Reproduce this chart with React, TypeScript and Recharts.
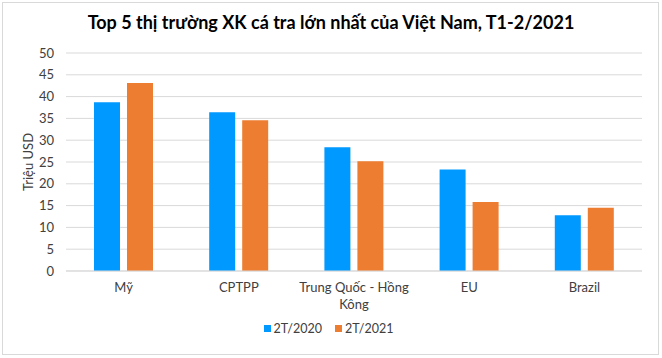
import React from 'react';
import { BarChart, Bar, XAxis, YAxis, CartesianGrid, Legend } from 'recharts';

const markets = ['Mỹ', 'CPTPP', 'Trung Quốc - Hồng Kông', 'EU', 'Brazil'];
const values2020 = [38.7, 36.4, 28.4, 23.3, 12.8];
const values2021 = [43.1, 34.6, 25.2, 15.8, 14.5];
const yTicks = [0, 5, 10, 15, 20, 25, 30, 35, 40, 45, 50];

const FONT = 'Lato, "Open Sans", sans-serif';

const chartData = markets.map((m, i) => ({
  market: m,
  y2020: values2020[i],
  y2021: values2021[i],
}));

// split long category names into lines (Excel-like wrapping)
function wrap(text: string, maxChars: number) {
  const words = text.split(' ');
  const lines: string[] = [];
  let cur = '';
  words.forEach((w) => {
    const next = cur ? cur + ' ' + w : w;
    if (next.length > maxChars && cur) {
      lines.push(cur);
      cur = w;
    } else {
      cur = next;
    }
  });
  if (cur) lines.push(cur);
  return lines;
}

function CategoryTick(props: any) {
  const { x, y, payload } = props;
  const lines = wrap(String(payload.value), 18);
  return (
    <g transform={`translate(${x},${y})`}>
      {lines.map((line, i) => (
        <text
          key={i}
          x={0}
          y={13 + i * 17}
          textAnchor="middle"
          fill="#404040"
          fontSize={13}
          fontFamily={FONT}
        >
          {line}
        </text>
      ))}
    </g>
  );
}

function LegendContent(props: any) {
  const items = props.payload || [];
  return (
    <div style={{ display: 'flex', justifyContent: 'center', paddingLeft: 28, fontFamily: FONT, fontSize: 12.5, color: '#404040' }}>
      {items.map((it: any) => (
        <div key={it.value} style={{ display: 'flex', alignItems: 'center', marginRight: 13 }}>
          <span style={{ display: 'inline-block', width: 7, height: 7, background: it.color, marginRight: 3 }} />
          <span>{it.value}</span>
        </div>
      ))}
    </div>
  );
}

export default function App() {
  return (
    <div style={{ position: 'absolute', left: 0, top: 0, width: 662, height: 358, background: '#fff' }}>
      <div
        style={{
          position: 'absolute',
          left: 2,
          top: 2,
          width: 655,
          height: 351,
          border: '1px solid #d9d9d9',
        }}
      />
      <div
        style={{
          position: 'absolute',
          left: 0,
          top: 11,
          width: 662,
          textAlign: 'center',
          fontFamily: FONT,
          fontWeight: 700,
          fontSize: 18,
          color: '#000',
        }}
      >
        Top 5 thị trường XK cá tra lớn nhất của Việt Nam, T1-2/2021
      </div>
      <div style={{ position: 'absolute', left: 0, top: 0 }}>
        <BarChart
          width={662}
          height={358}
          data={chartData}
          margin={{ top: 53, right: 20, left: 0, bottom: 8 }}
          barCategoryGap="24%"
          barGap={7}
        >
          <CartesianGrid vertical={false} stroke="#d9d9d9" />
          <XAxis
            dataKey="market"
            interval={0}
            tickLine={false}
            axisLine={{ stroke: '#d9d9d9' }}
            height={50}
            tick={<CategoryTick />}
          />
          <YAxis
            width={66}
            domain={[0, 50]}
            ticks={yTicks}
            interval={0}
            tickLine={false}
            axisLine={false}
            tickSize={0}
            tickMargin={12}
            tick={{ fill: '#404040', fontSize: 13, fontFamily: FONT }}
            label={{
              value: 'Triệu USD',
              angle: -90,
              position: 'insideLeft',
              offset: 28,
              style: { textAnchor: 'middle', fill: '#404040', fontSize: 13, fontFamily: FONT },
            }}
          />
          <Legend verticalAlign="bottom" height={29} content={<LegendContent />} />
          <Bar dataKey="y2020" name="2T/2020" fill="#0099ff" barSize={26} isAnimationActive={false} />
          <Bar dataKey="y2021" name="2T/2021" fill="#ed7d31" barSize={26} isAnimationActive={false} />
        </BarChart>
      </div>
    </div>
  );
}
